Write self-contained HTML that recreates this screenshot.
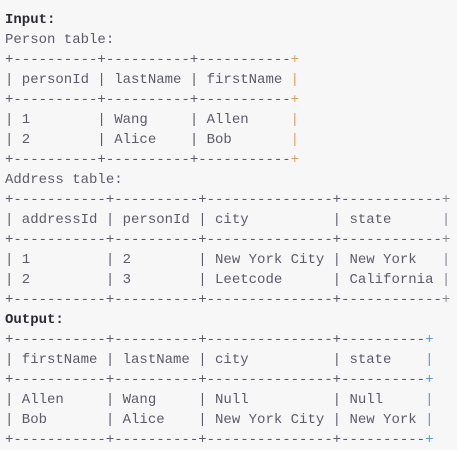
<!DOCTYPE html>
<html><head><meta charset="utf-8"><style>
html,body{margin:0;padding:0;background:#f7f7f8;}
body{width:457px;height:449px;overflow:hidden;}
pre{margin:0;padding:10px 0 0 5px;font-family:"Liberation Mono",monospace;font-size:14px;line-height:20px;color:#5e5a6a;}
b{color:#2a2a33;}
.o{color:#e0a060}.g{color:#8a8a95}.bl{color:#5a9ad8}
</style></head><body><pre><b>Input:</b>
Person table:
+----------+----------+-----------<span class="o">+</span>
| personId | lastName | firstName <span class="o">|</span>
+----------+----------+-----------<span class="o">+</span>
| 1        | Wang     | Allen     <span class="o">|</span>
| 2        | Alice    | Bob       <span class="o">|</span>
+----------+----------+-----------<span class="o">+</span>
Address table:
+-----------+----------+---------------+------------<span class="g">+</span>
| addressId | personId | city          | state      <span class="g">|</span>
+-----------+----------+---------------+------------<span class="g">+</span>
| 1         | 2        | New York City | New York   <span class="g">|</span>
| 2         | 3        | Leetcode      | California <span class="g">|</span>
+-----------+----------+---------------+------------<span class="g">+</span>
<b>Output:</b>
+-----------+----------+---------------+----------<span class="bl">+</span>
| firstName | lastName | city          | state    <span class="bl">|</span>
+-----------+----------+---------------+----------<span class="bl">+</span>
| Allen     | Wang     | Null          | Null     <span class="bl">|</span>
| Bob       | Alice    | New York City | New York <span class="bl">|</span>
+-----------+----------+---------------+----------<span class="bl">+</span></pre></body></html>
